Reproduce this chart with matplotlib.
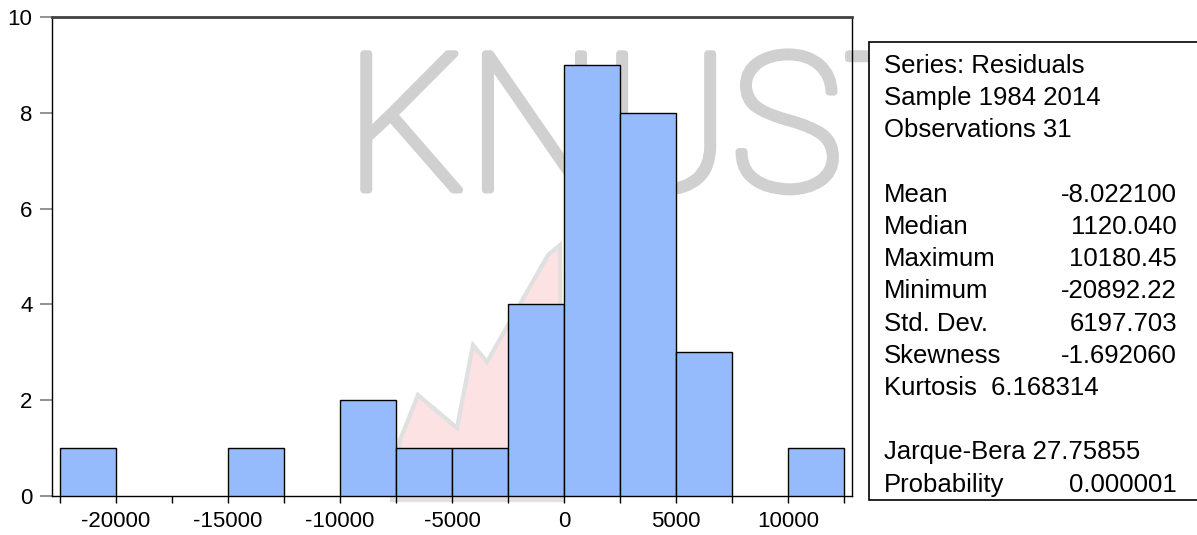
import matplotlib
matplotlib.use("Agg")
import matplotlib.pyplot as plt
import matplotlib.patheffects as pe
from matplotlib.patches import Rectangle, Polygon

plt.rcParams['font.family'] = ['Liberation Sans', 'DejaVu Sans']

# histogram of residuals (bin width 2500)
bin_left = [-22500, -20000, -17500, -15000, -12500, -10000, -7500,
            -5000, -2500, 0, 2500, 5000, 7500, 10000]
counts = [1, 0, 0, 1, 0, 2, 1, 1, 4, 9, 8, 3, 0, 1]
bin_width = 2500

major_ticks = [-20000, -15000, -10000, -5000, 0, 5000, 10000]
minor_ticks = [-22500, -17500, -12500, -7500, -2500, 2500, 7500, 12500]
y_ticks = [0, 2, 4, 6, 8, 10]

stats_header = ["Series: Residuals", "Sample 1984 2014", "Observations 31"]
stats_names = ["Mean", "Median", "Maximum", "Minimum", "Std. Dev.", "Skewness"]
stats_values = ["-8.022100", "1120.040", "10180.45", "-20892.22", "6197.703", "-1.692060"]
kurtosis_line = "Kurtosis  6.168314"
jb_line = "Jarque-Bera 27.75855"
prob_name, prob_value = "Probability", "0.000001"

W, H = 1197, 535
fig = plt.figure(figsize=(W / 100, H / 100), dpi=100)

def fx(px):
    return px / W

def fy(py):
    return 1 - py / H

# faint watermark behind the chart
wm = fig.text(fx(345), fy(190), "KNUST", fontsize=138, family=['Roboto', 'DejaVu Sans'],
              fontweight='light', color='#d0d0d0', ha='left', va='baseline', zorder=0)
wm.set_path_effects([pe.withStroke(linewidth=5, foreground='#d0d0d0')])
flame = [(392, 500), (400, 440), (418, 395), (457, 428), (473, 345), (487, 362),
         (548, 255), (560, 245), (562, 500)]
fig.patches.append(Polygon([(fx(a), fy(b)) for a, b in flame], closed=True,
                           transform=fig.transFigure, facecolor='#fde2e3',
                           edgecolor='#e0e0e0', linewidth=3, zorder=0.5))

ax = fig.add_axes([fx(52), fy(496), fx(852) - fx(52), fy(17) - fy(496)])
ax.set_zorder(1)
ax.patch.set_alpha(0)

for left, c in zip(bin_left, counts):
    if c > 0:
        ax.bar(left, c, width=bin_width, align='edge', color='#95bbfd',
               edgecolor='black', linewidth=1, zorder=3)

ax.set_xlim(-22857, 12857)
ax.set_ylim(0, 10)
ax.set_xticks(major_ticks)
ax.set_xticks(minor_ticks, minor=True)
ax.set_xticklabels([str(t) for t in major_ticks])
ax.set_yticks(y_ticks)
ax.tick_params(axis='x', which='both', direction='out', length=5, width=1,
               color='black', labelsize=16, pad=6)
ax.tick_params(axis='y', direction='out', length=9, width=1.2,
               color='#808080', labelsize=16, pad=5)
for side in ['left', 'right', 'bottom']:
    ax.spines[side].set_color('black')
    ax.spines[side].set_linewidth(1)
ax.spines['top'].set_color('#404040')
ax.spines['top'].set_linewidth(2)

# statistics box
fig.patches.append(Rectangle((fx(869), fy(500)), fx(1200) - fx(869), fy(42) - fy(500),
                             transform=fig.transFigure, facecolor='white',
                             edgecolor='black', linewidth=1.2, zorder=2))
x_lab, x_val = 884, 1177
y0, step = 66, 32.2
fs = 18.5
for i, s in enumerate(stats_header):
    fig.text(fx(x_lab), fy(y0 + i * step), s, fontsize=fs, va='center', ha='left', zorder=5)
for j, (n, v) in enumerate(zip(stats_names, stats_values)):
    yy = y0 + (4 + j) * step
    fig.text(fx(x_lab), fy(yy), n, fontsize=fs, va='center', ha='left', zorder=5)
    fig.text(fx(x_val), fy(yy), v, fontsize=fs, va='center', ha='right', zorder=5)
fig.text(fx(x_lab), fy(y0 + 10 * step), kurtosis_line, fontsize=fs, va='center', ha='left', zorder=5)
fig.text(fx(x_lab), fy(y0 + 12 * step), jb_line, fontsize=fs, va='center', ha='left', zorder=5)
fig.text(fx(x_lab), fy(y0 + 13 * step), prob_name, fontsize=fs, va='center', ha='left', zorder=5)
fig.text(fx(x_val), fy(y0 + 13 * step), prob_value, fontsize=fs, va='center', ha='right', zorder=5)

fig.savefig("out.png", dpi=100)
